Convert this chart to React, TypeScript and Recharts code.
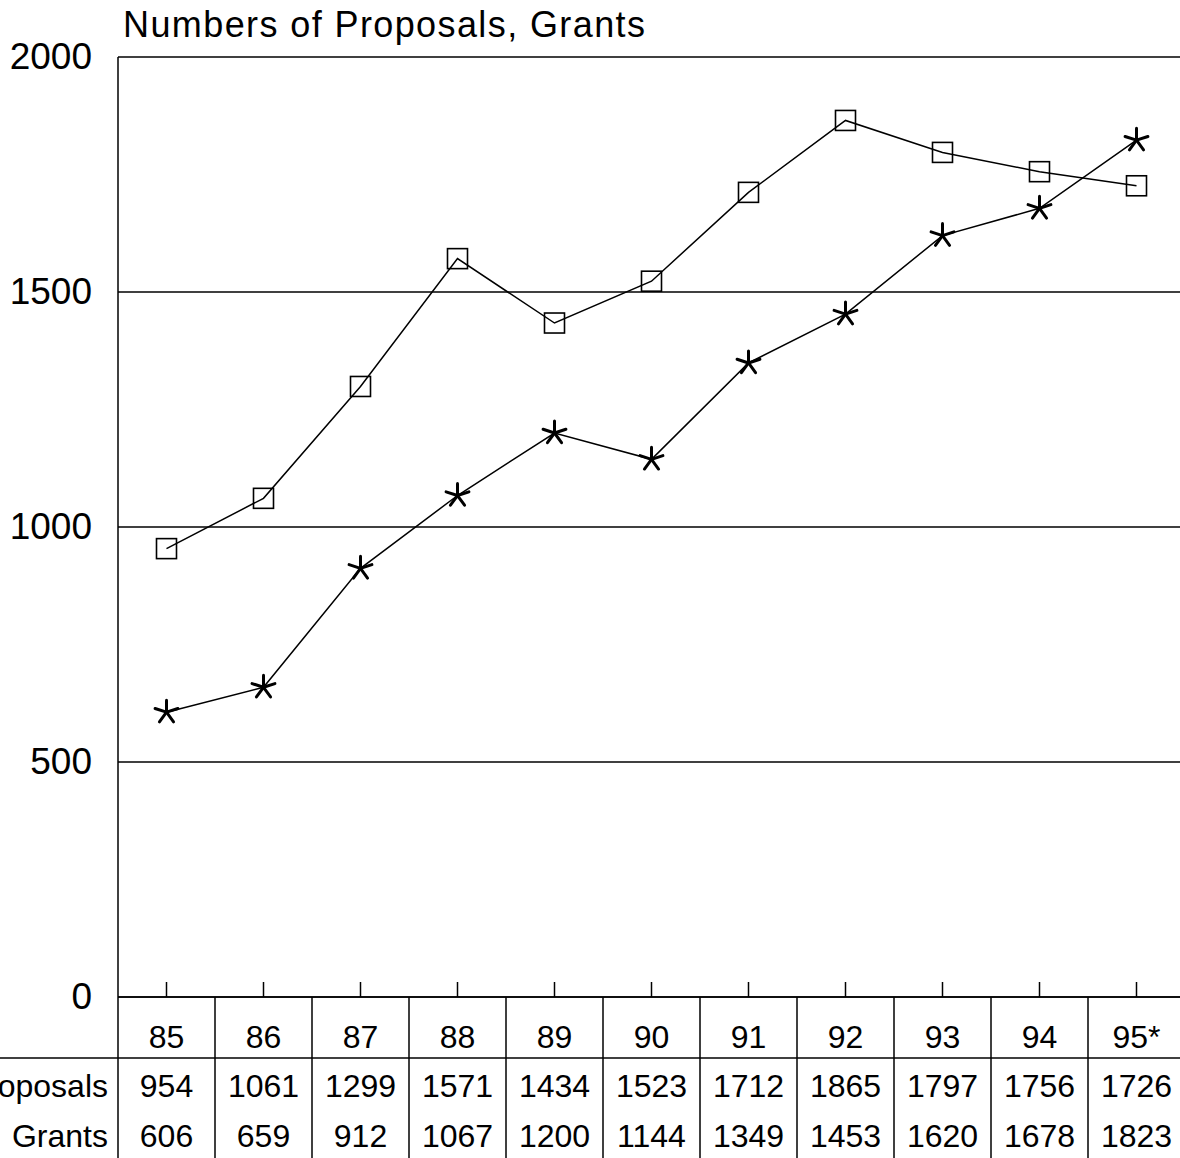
import { CartesianGrid, Line, LineChart, XAxis, YAxis } from "recharts";

const years = ["85", "86", "87", "88", "89", "90", "91", "92", "93", "94", "95*"];
const proposals = [954, 1061, 1299, 1571, 1434, 1523, 1712, 1865, 1797, 1756, 1726];
const grants = [606, 659, 912, 1067, 1200, 1144, 1349, 1453, 1620, 1678, 1823];
const yTicks = [0, 500, 1000, 1500, 2000];
const rowLabels = ["Proposals", "Grants"];

const data = years.map((year, i) => ({ year, proposals: proposals[i], grants: grants[i] }));

const FONT = '"Liberation Sans", Arial, Helvetica, sans-serif';
const CHART_W = 1190;
const CHART_H = 1158;
const AXIS_H = 161;
const Y_W = 118;
const RIGHT = 5;
const axisY = CHART_H - AXIS_H;
const band = (CHART_W - Y_W - RIGHT) / years.length;

const YTick = ({ x, y, payload }: any) => (
  <text x={x - 18} y={y + 12} textAnchor="end" fontSize={37} fontFamily={FONT} fill="#000">
    {payload.value}
  </text>
);

const TableTick = ({ x, payload, index }: any) => (
  <g>
    {index === 0 && (
      <g>
        <line x1={0} y1={axisY + 61} x2={CHART_W} y2={axisY + 61} stroke="#000" strokeWidth={1.5} />
        {rowLabels.map((label, r) => (
          <text key={label} x={108} y={axisY + 100 + r * 50} textAnchor="end" fontSize={32} fontFamily={FONT} fill="#000">
            {label}
          </text>
        ))}
      </g>
    )}
    <line x1={x} y1={axisY} x2={x} y2={axisY - 15} stroke="#000" strokeWidth={1.5} />
    <line x1={x - band / 2} y1={axisY} x2={x - band / 2} y2={CHART_H} stroke="#000" strokeWidth={1.5} />
    <text x={x} y={axisY + 51} textAnchor="middle" fontSize={32} fontFamily={FONT} fill="#000">
      {payload.value}
    </text>
    <text x={x} y={axisY + 100} textAnchor="middle" fontSize={32} fontFamily={FONT} fill="#000">
      {proposals[index]}
    </text>
    <text x={x} y={axisY + 150} textAnchor="middle" fontSize={32} fontFamily={FONT} fill="#000">
      {grants[index]}
    </text>
  </g>
);

const SquareDot = ({ cx, cy, index }: any) => (
  <rect key={`sq-${index}`} x={cx - 10} y={cy - 10} width={20} height={20} fill="none" stroke="#000" strokeWidth={1.6} />
);

const StarDot = ({ cx, cy, index }: any) => {
  const arms = [-90, -18, 54, 126, 198];
  return (
    <g key={`st-${index}`}>
      {arms.map((a) => (
        <line
          key={a}
          x1={cx}
          y1={cy}
          x2={cx + 12 * Math.cos((a * Math.PI) / 180)}
          y2={cy + 12 * Math.sin((a * Math.PI) / 180)}
          stroke="#000"
          strokeWidth={3}
          strokeLinecap="round"
        />
      ))}
    </g>
  );
};

export default function App() {
  return (
    <div style={{ position: "absolute", left: 0, top: 0, width: 1180, height: CHART_H, overflow: "hidden", background: "#fff" }}>
      <svg style={{ position: "absolute", left: 0, top: 0 }} width={1180} height={50}>
        <text x={123} y={37} fontSize={36} fontFamily={FONT} fill="#000" letterSpacing={1.4}>
          Numbers of Proposals, Grants
        </text>
      </svg>
      <div style={{ position: "absolute", left: 0, top: 0 }}>
        <LineChart width={CHART_W} height={CHART_H} data={data} margin={{ top: 57, right: RIGHT, bottom: 0, left: 0 }}>
          <CartesianGrid vertical={false} stroke="#000" strokeWidth={1.5} />
          <XAxis
            dataKey="year"
            height={AXIS_H}
            interval={0}
            padding={{ left: band / 2, right: band / 2 }}
            tickLine={false}
            axisLine={{ stroke: "#000", strokeWidth: 1.5 }}
            tick={TableTick}
          />
          <YAxis
            width={Y_W}
            domain={[0, 2000]}
            ticks={yTicks}
            interval={0}
            tickLine={false}
            axisLine={{ stroke: "#000", strokeWidth: 1.5 }}
            tick={YTick}
          />
          <Line
            type="linear"
            dataKey="proposals"
            stroke="#000"
            strokeWidth={1.5}
            dot={SquareDot}
            isAnimationActive={false}
          />
          <Line
            type="linear"
            dataKey="grants"
            stroke="#000"
            strokeWidth={1.5}
            dot={StarDot}
            isAnimationActive={false}
          />
        </LineChart>
      </div>
    </div>
  );
}
